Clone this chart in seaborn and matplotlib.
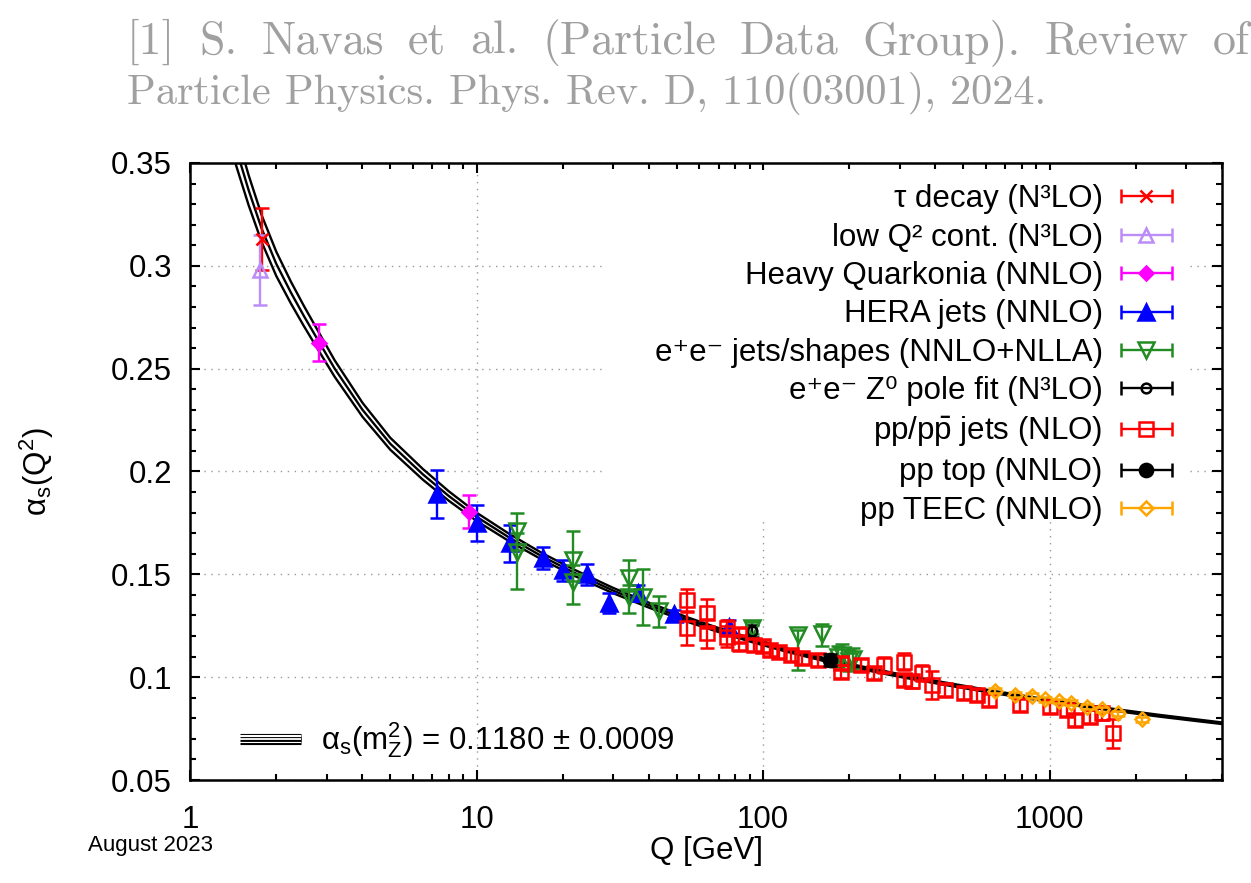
import numpy as np
import matplotlib
matplotlib.use("Agg")
import matplotlib.pyplot as plt
import matplotlib.patheffects as pe
import seaborn as sns
from matplotlib.container import ErrorbarContainer
from matplotlib.legend_handler import HandlerErrorbar
from matplotlib.lines import Line2D
from matplotlib.patches import Rectangle
from matplotlib.ticker import LogLocator, MultipleLocator, NullFormatter

# world average running coupling (central curve and its +-0.0009 band)
q_curve = [1.4, 1.5, 1.6, 1.78, 2.0, 2.25, 2.5, 2.82, 3.2, 4.0, 5.0, 6.5, 8.0, 10, 13, 17, 22, 30,
           40, 55, 70, 91.19, 120, 173, 220, 300, 420, 600, 850, 1200, 1700, 2400, 3200, 4000]
alpha_curve = [0.364, 0.350, 0.337, 0.318, 0.301, 0.287, 0.2755, 0.263, 0.250, 0.230, 0.2135, 0.1986,
               0.1881, 0.178, 0.1679, 0.1586, 0.1507, 0.1421, 0.1350, 0.1278, 0.1229, 0.1180, 0.1133,
               0.1077, 0.1046, 0.1008, 0.0971, 0.0934, 0.0900, 0.0869, 0.0840, 0.0813, 0.0792, 0.0776]
alpha_band = [0.0086, 0.0079, 0.0073, 0.0065, 0.0059, 0.0053, 0.0049, 0.0045, 0.0040, 0.0034, 0.0029,
              0.0026, 0.0023, 0.0020, 0.0018, 0.0016, 0.0015, 0.0013, 0.0012, 0.0011, 0.00098, 0.0009,
              0.00083, 0.00075, 0.00071, 0.00066, 0.00061, 0.00056, 0.00052, 0.00049, 0.00046, 0.00043,
              0.00041, 0.00039]

# measurements
tau_q = [1.78]
tau_a = [0.313]
tau_e = [0.015]

lowq_q = [1.75]
lowq_a = [0.298]
lowq_e = [0.017]

quark_q = [2.82, 9.4]
quark_a = [0.2625, 0.1805]
quark_e = [0.009, 0.008]

hera_q = [7.3, 10.0, 13.1, 17.0, 20.0, 24.4, 29.1, 36.5, 49.0, 76.0]
hera_a = [0.189, 0.175, 0.165, 0.158, 0.152, 0.150, 0.136, 0.141, 0.1307, 0.1246]
hera_e = [0.0115, 0.0087, 0.009, 0.0055, 0.005, 0.005, 0.005, 0.004, 0.002, 0.003]

ee_q = [13.9, 13.9, 21.8, 21.8, 34.1, 34.1, 38.0, 43.4, 91.2, 133, 161, 183, 189, 200, 206]
ee_a = [0.171, 0.161, 0.157, 0.1465, 0.148, 0.139, 0.139, 0.132, 0.124, 0.1205, 0.121, 0.110, 0.111,
        0.108, 0.109]
ee_lo = [0.009, 0.018, 0.010, 0.011, 0.006, 0.008, 0.0135, 0.0076, 0.003, 0.017, 0.006, 0.005, 0.005,
         0.005, 0.005]
ee_hi = [0.009, 0.009, 0.014, 0.008, 0.009, 0.006, 0.0135, 0.0076, 0.003, 0.0025, 0.005, 0.005, 0.005,
         0.005, 0.005]

z0_q = [91.2]
z0_a = [0.1225]
z0_e = [0.003]

ppj_q = [54.5, 54.5, 64, 64, 75, 75, 82.5, 82.5, 93, 100, 106, 114, 125, 137, 155, 187, 187, 219, 244,
         264, 310, 310, 331, 359, 389, 433, 502, 558, 613, 791, 1006, 1149, 1229, 1386, 1521, 1671]
ppj_a = [0.1376, 0.1238, 0.1311, 0.1214, 0.1238, 0.1197, 0.1205, 0.1167, 0.1157, 0.1150, 0.1132,
         0.1123, 0.1108, 0.1094, 0.1084, 0.1068, 0.1027, 0.1060, 0.1019, 0.1060, 0.1076, 0.0987,
         0.0979, 0.1019, 0.0962, 0.0938, 0.0922, 0.0914, 0.0889, 0.0865, 0.0857, 0.0841, 0.0792,
         0.0808, 0.0824, 0.0727]
ppj_e = [0.0055, 0.008, 0.007, 0.007, 0.004, 0.005, 0.004, 0.004, 0.003, 0.003, 0.003, 0.003, 0.003,
         0.003, 0.003, 0.003, 0.003, 0.003, 0.003, 0.004, 0.004, 0.003, 0.003, 0.004, 0.007, 0.003,
         0.003, 0.003, 0.003, 0.003, 0.003, 0.003, 0.003, 0.003, 0.003, 0.007]

top_q = [172]
top_a = [0.1084]
top_e = [0.003]

teec_q = [647, 760, 868, 966, 1075, 1190, 1349, 1521, 1730, 2097]
teec_a = [0.0933, 0.0914, 0.0909, 0.0893, 0.0884, 0.0876, 0.0857, 0.0844, 0.0825, 0.0796]
teec_e = [0.0012, 0.0012, 0.0012, 0.0012, 0.0012, 0.0012, 0.0012, 0.0012, 0.0012, 0.0012]

labels = ["τ decay (N³LO)",
          "low Q² cont. (N³LO)",
          "Heavy Quarkonia (NNLO)",
          "HERA jets (NNLO)",
          "e⁺e⁻ jets/shapes (NNLO+NLLA)",
          "e⁺e⁻ Z⁰ pole fit (N³LO)",
          r"pp/p$\bar{\mathregular{p}}$ jets (NLO)",
          "pp top (NNLO)",
          "pp TEEC (NNLO)"]
yticks = [0.05, 0.1, 0.15, 0.2, 0.25, 0.3, 0.35]
ytick_labels = ["0.05", "0.1", "0.15", "0.2", "0.25", "0.3", "0.35"]
xticks = [1, 10, 100, 1000]
xtick_labels = ["1", "10", "100", "1000"]
cite_lines = ["[1] S. Navas et al. (Particle Data Group). Review of",
              "Particle Physics. Phys. Rev. D, 110(03001), 2024."]

sns.set_theme(style="ticks")
plt.rcParams['font.family'] = ['Liberation Sans', 'DejaVu Sans']
plt.rcParams['text.color'] = 'black'
plt.rcParams['axes.labelcolor'] = 'black'
plt.rcParams['xtick.color'] = 'black'
plt.rcParams['ytick.color'] = 'black'

FS = 22.5
fig = plt.figure(figsize=(12.51, 8.83), dpi=100)
ax = fig.add_axes([190 / 1251, 1 - 780 / 883, 1032 / 1251, 617 / 883])
ax.set_xscale('log')

# the band: three thin black lines
upper = np.array(alpha_curve) + np.array(alpha_band)
lower = np.array(alpha_curve) - np.array(alpha_band)
for ys in (upper, alpha_curve, lower):
    sns.lineplot(x=q_curve, y=ys, ax=ax, color='black', lw=1.7, estimator=None, sort=False, zorder=2)


def add_series(q, a, err, color, marker, ms, filled, z):
    style = dict(fmt=marker, color=color, ms=ms, mec=color, mfc=color if filled else 'none',
                 mew=1.8, elinewidth=1.7, capsize=5, capthick=1.7, zorder=z)
    ax.errorbar(q, a, yerr=err, **style)
    # legend proxy: horizontal bar with caps, gnuplot style
    return ax.errorbar([np.nan], [np.nan], xerr=[1.0], **style)


handles = [
    add_series(tau_q, tau_a, tau_e, '#ff0000', 'x', 8.5, True, 3),
    add_series(lowq_q, lowq_a, lowq_e, '#bc8cf8', '^', 10, False, 3),
    add_series(quark_q, quark_a, quark_e, '#ff00ff', 'D', 7.5, True, 3),
    add_series(hera_q, hera_a, hera_e, '#0000ff', '^', 11, True, 3),
    add_series(ee_q, ee_a, [ee_lo, ee_hi], '#228b22', 'v', 11, False, 4),
    add_series(z0_q, z0_a, z0_e, 'black', 'o', 7, False, 4),
    add_series(ppj_q, ppj_a, ppj_e, '#ff0000', 's', 9.5, False, 5),
    add_series(top_q, top_a, top_e, 'black', 'o', 9.5, True, 6),
    add_series(teec_q, teec_a, teec_e, '#ffa500', 'D', 7.5, False, 7),
]

ax.set_xlim(1, 4000)
ax.set_ylim(0.05, 0.35)
ax.set_xticks(xticks)
ax.set_xticklabels(xtick_labels)
ax.xaxis.set_minor_locator(LogLocator(base=10, subs=np.arange(2, 10)))
ax.xaxis.set_minor_formatter(NullFormatter())
ax.set_yticks(yticks)
ax.set_yticklabels(ytick_labels)
ax.yaxis.set_minor_locator(MultipleLocator(0.01))
ax.tick_params(which='both', direction='in', top=True, right=True, width=1.5, labelsize=FS)
ax.tick_params(which='major', length=7)
ax.tick_params(which='minor', length=4.5)
ax.tick_params(axis='y', pad=13)
ax.tick_params(axis='x', pad=18)
for sp in ax.spines.values():
    sp.set_linewidth(1.8)
    sp.set_color('black')
ax.grid(True, which='major', linestyle=(0, (1, 4)), color='#999999', lw=1.0)

# opaque key area hides the grid behind the legend
ax.add_patch(Rectangle((0.404, 0.421), 0.562, 0.568, transform=ax.transAxes,
                       facecolor='white', edgecolor='none', zorder=1))

leg = ax.legend(handles, labels, loc='upper right', bbox_to_anchor=(0.9525, 0.9657),
                markerfirst=False, frameon=False, fontsize=FS, handlelength=1.7,
                handletextpad=0.55, labelspacing=0.27, borderpad=0, borderaxespad=0,
                handler_map={ErrorbarContainer: HandlerErrorbar(xerr_size=0.82)})
ax.add_artist(leg)

band_handle = Line2D([], [], color='black', lw=1.0, solid_capstyle='butt',
                     path_effects=[pe.Stroke(linewidth=8.0, foreground='black', capstyle='butt'),
                                   pe.Stroke(linewidth=5.8, foreground='white', capstyle='butt'),
                                   pe.Stroke(linewidth=3.5, foreground='black', capstyle='butt'),
                                   pe.Stroke(linewidth=1.3, foreground='white', capstyle='butt')])
ax.legend([band_handle], [r"α$_\mathregular{s}$(m$_\mathregular{Z}^\mathregular{2}$) = 0.1180 ± 0.0009"],
          loc='lower left', bbox_to_anchor=(0.0484, 0.0324), frameon=False, fontsize=FS,
          handlelength=1.95, handletextpad=0.65, borderpad=0, borderaxespad=0)

ax.set_xlabel("Q [GeV]", fontsize=FS, labelpad=1)
ax.set_ylabel(r"α$_\mathregular{s}$(Q$^\mathregular{2}$)", fontsize=FS)
ax.yaxis.set_label_coords(-0.13, 0.5)

fig.text(150 / 1251, 1 - 846 / 883, "August 2023", ha='center', va='center', fontsize=16)

# citation header, first line justified to the full width like the LaTeX original
renderer = fig.canvas.get_renderer()
words = cite_lines[0].split()
word_texts = [fig.text(0, 1 - 54 / 883, w, family='cmr10', fontsize=33, color='#a0a0a0',
                       ha='left', va='baseline') for w in words]
widths = [t.get_window_extent(renderer).width for t in word_texts]
gap = (1250 - 127 - sum(widths)) / (len(words) - 1)
xpos = 127
for t, w in zip(word_texts, widths):
    t.set_x(xpos / 1251)
    xpos += w + gap
fig.text(127 / 1251, 1 - 104 / 883, cite_lines[1],
         family='cmr10', fontsize=30.5, color='#a0a0a0', ha='left', va='baseline')

fig.savefig('out.png', dpi=100, facecolor='white')
